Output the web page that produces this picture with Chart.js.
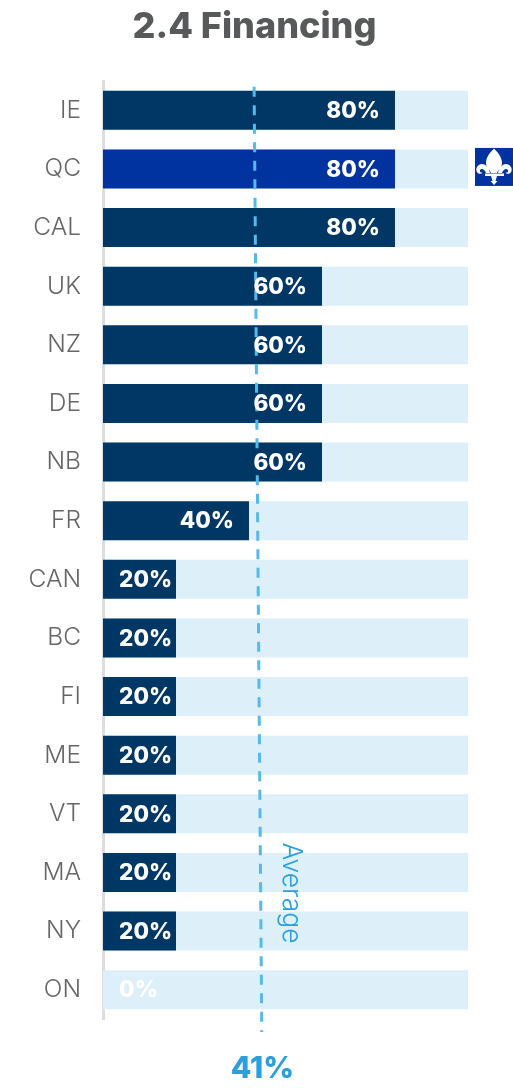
<!DOCTYPE html>
<html>
<head>
<meta charset="utf-8">
<style>
  html, body { margin: 0; padding: 0; background: #fff; }
  canvas { display: block; }
</style>
<script src="https://cdn.jsdelivr.net/npm/chart.js@4"></script>
</head>
<body>
<canvas id="barChart" width="513" height="1088"></canvas>
<script>
const categories = ["IE", "QC", "CAL", "UK", "NZ", "DE", "NB", "FR", "CAN", "BC", "FI", "ME", "VT", "MA", "NY", "ON"]
const scores = [80, 80, 80, 60, 60, 60, 60, 40, 20, 20, 20, 20, 20, 20, 20, 0]
const track = [100, 100, 100, 100, 100, 100, 100, 100, 100, 100, 100, 100, 100, 100, 100, 100]
const averageLine = [{x: 41.4, y: 0.1}, {x: 43.5, y: 16.22}]
const averageLabel = "41%"

const navy = "#003764"
const royal = "#0033A0"
const pale = "#DDF0FA"
const sky = "#56B9E8"
const labelFont = "Inter, sans-serif"

const fleur = new Path2D(
  "M19 0.5C22.5 4 27 9 27 15C27 19 23.5 21 22 25L16 25C14.5 21 11 19 11 15C11 9 15.5 4 19 0.5Z" +
  "M15 25C14.5 21 11 16 7 16C3 16 0.5 20 1.5 23C2.5 26 6 27 7.5 24.5C6.5 25 4.5 24.5 5 22.5C5.5 20.5 9 20 11 25Z" +
  "M23 25C23.5 21 27 16 31 16C35 16 37.5 20 36.5 23C35.5 26 32 27 30.5 24.5C31.5 25 33.5 24.5 33 22.5C32.5 20.5 29 20 27 25Z" +
  "M10 25.5L29 25.5L29 28L22 28L20.5 33L22.5 33L19 37L15.5 33L17.5 33L16 28L10 28Z"
)

// value labels, flag and average captions, all placed from the chart's own scales
const overlay = {
  id: "overlay",
  afterDatasetsDraw(chart) {
    const {ctx, scales} = chart
    const bars = chart.getDatasetMeta(1).data
    ctx.save()
    ctx.font = "800 22.5px " + labelFont
    ctx.textBaseline = "middle"
    ctx.textAlign = "left"
    bars.forEach((bar, i) => {
      const text = scores[i] + "%"
      const w = ctx.measureText(text).width
      const left = Math.max(scales.x.getPixelForValue(4.4), bar.x - 15 - w)
      ctx.fillStyle = "#fff"
      ctx.fillText(text, left, bar.y + 1)
    })

    const qc = bars[categories.indexOf("QC")]
    ctx.translate(475, qc.y - 21)
    ctx.fillStyle = royal
    ctx.fillRect(0, 0, 38, 38)
    ctx.fillStyle = "#fff"
    ctx.fill(fleur)
    ctx.restore()

    ctx.save()
    ctx.fillStyle = "#2A9FDB"
    ctx.textAlign = "center"
    ctx.textBaseline = "middle"
    ctx.font = "800 30px " + labelFont
    ctx.fillText(averageLabel, 262.5, 1069)
    ctx.translate(291, 893)
    ctx.rotate(Math.PI / 2)
    ctx.font = "300 26.5px Inter, sans-serif"
    ctx.fillText("Average", 0, 0)
    ctx.restore()
  }
}

const title = {
  id: "chartTitle",
  afterDraw(chart) {
    const {ctx} = chart
    ctx.save()
    ctx.fillStyle = "#58595B"
    ctx.font = "800 36px " + labelFont
    ctx.textAlign = "center"
    ctx.textBaseline = "middle"
    ctx.fillText("2.4 Financing", 254.5, 27)
    ctx.restore()
  }
}

new Chart(document.getElementById("barChart"), {
  type: "bar",
  data: {
    labels: categories,
    datasets: [
      {
        label: "scale",
        data: track,
        backgroundColor: pale,
        order: 3,
        grouped: false,
        barPercentage: 0.665,
        categoryPercentage: 1
      },
      {
        label: "score",
        data: scores,
        backgroundColor: categories.map(c => c === "QC" ? royal : navy),
        order: 2,
        grouped: false,
        barPercentage: 0.665,
        categoryPercentage: 1
      },
      {
        type: "scatter",
        label: "average",
        data: averageLine,
        yAxisID: "yLine",
        showLine: true,
        borderColor: sky,
        borderWidth: 3,
        borderDash: [10, 8.5],
        pointRadius: 0,
        clip: false,
        order: 1
      }
    ]
  },
  options: {
    indexAxis: "y",
    responsive: false,
    animation: false,
    layout: {padding: {top: 81, bottom: 69, right: 45, left: 0}},
    plugins: {legend: {display: false}, title: {display: false}, tooltip: {enabled: false}},
    scales: {
      x: {
        min: 0,
        max: 100,
        display: false
      },
      y: {
        position: "left",
        grid: {display: false, drawTicks: false},
        border: {display: true, color: "#DDDDDD", width: 3},
        afterFit(scale) { scale.width = 103 },
        ticks: {
          color: "#666666",
          padding: 22,
          autoSkip: false,
          font: {family: "Inter, sans-serif", size: 24.5, weight: "300"}
        }
      },
      yLine: {
        type: "linear",
        display: false,
        offset: false,
        min: 0,
        max: 16,
        reverse: true
      }
    }
  },
  plugins: [overlay, title]
})
</script>
</body>
</html>
